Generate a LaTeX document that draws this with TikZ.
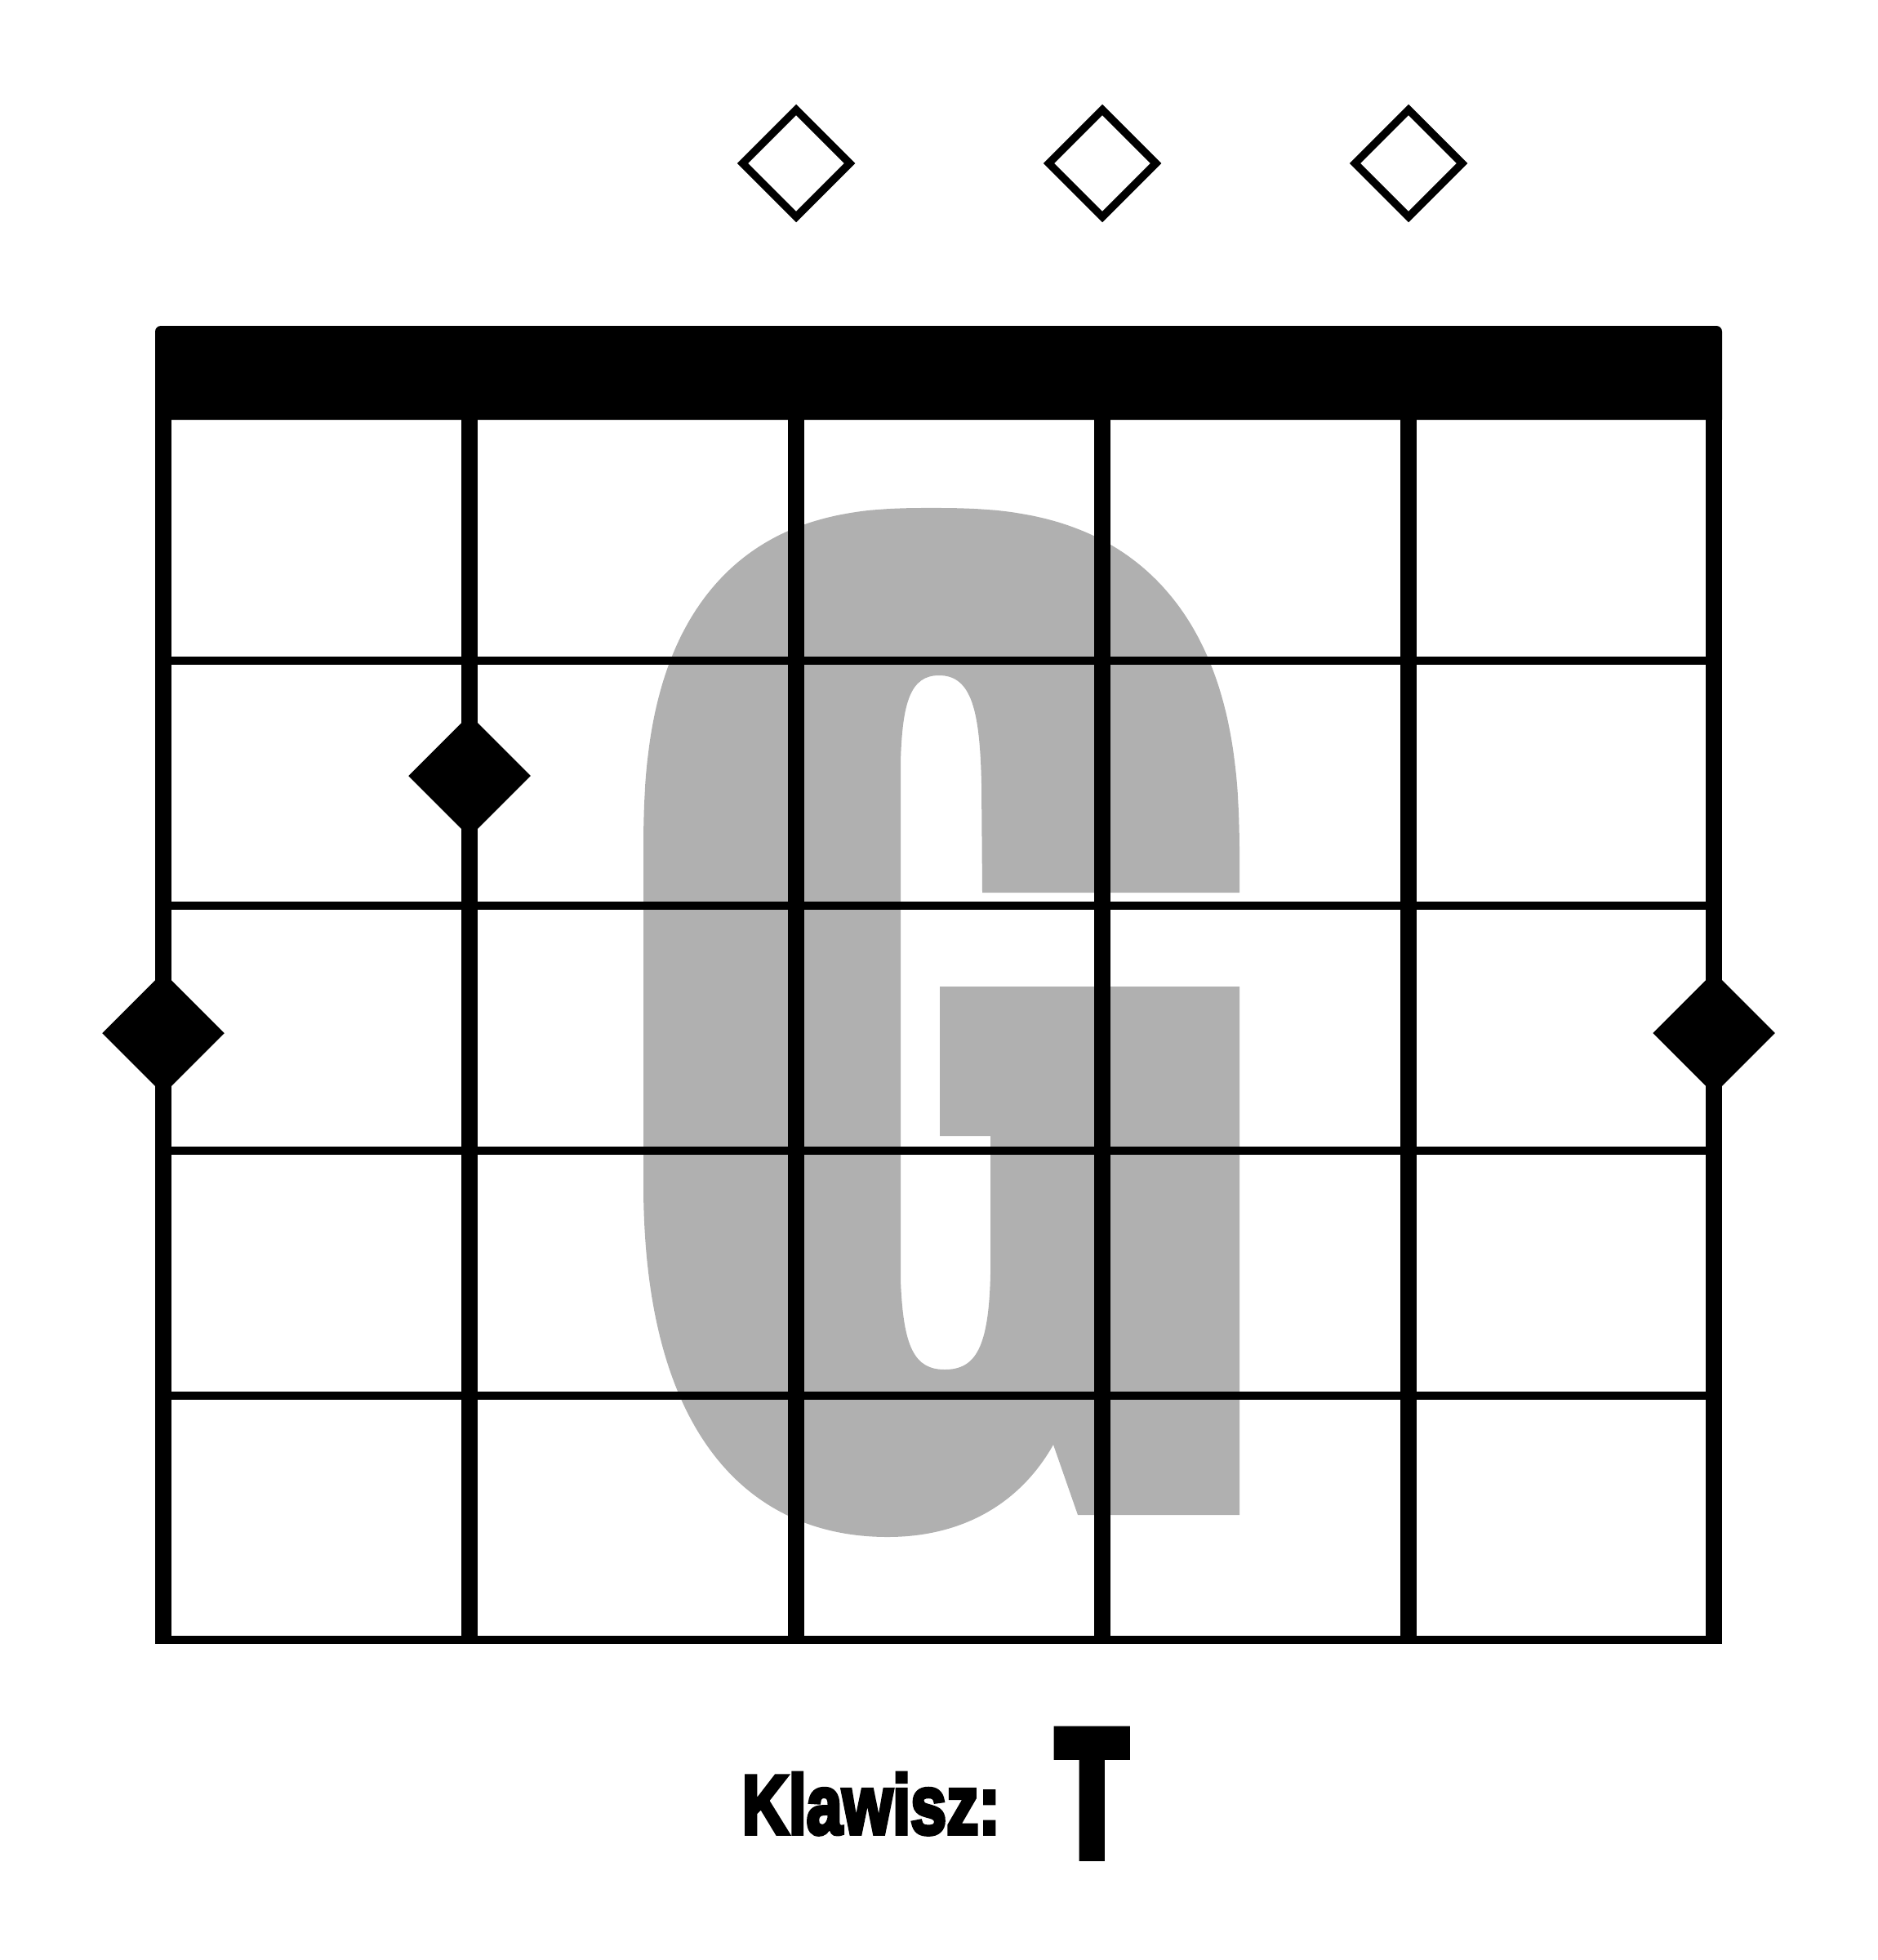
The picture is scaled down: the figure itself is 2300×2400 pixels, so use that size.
\documentclass[tikz,border=0pt]{standalone}
\usepackage{graphicx}
\usepackage{fontspec}
\usetikzlibrary{shapes.geometric}
\newfontfamily\impactfont[UprightFont={* Bold},FakeBold=5]{Liberation Sans}
\newfontfamily\impactT[UprightFont={* Bold},FakeBold=8]{Liberation Sans}
\definecolor{ggray}{RGB}{176,176,176}
\begin{document}
\begin{tikzpicture}[x=0.01cm,y=-0.01cm,
  opendia/.style={diamond, aspect=1, draw=black, line width=0.094cm, fill=white, minimum width=1.35cm, minimum height=1.35cm, inner sep=0pt},
  filldia/.style={diamond, aspect=1, fill=black, minimum width=1.5cm, minimum height=1.5cm, inner sep=0pt},
  fretline/.style={line width=0.10cm},
  stringline/.style={line width=0.20cm},
  textlabel/.style={anchor=south west, inner sep=0pt}]
\useasboundingbox (0,0) rectangle (2300,2400);
% big grey chord letter
\fill[ggray] (788,1450) -- (788,1100)
 -- plot[domain=0.3:89.7, samples=90, smooth] ({1140-352*pow(cos(\x),0.77)}, {1050-428*pow(sin(\x),0.77)})
 -- plot[domain=89.7:0.3, samples=90, smooth] ({1140+378*pow(cos(\x),0.77)}, {1060-438*pow(sin(\x),0.77)})
 -- (1518,1093) -- (1203,1093) -- (1202,960)
 .. controls (1200,870) and (1190,827) .. (1150,827)
 .. controls (1115,827) and (1105,860) .. (1103,933)
 -- (1103,1567)
 .. controls (1106,1650) and (1120,1677) .. (1157,1677)
 .. controls (1195,1677) and (1211,1650) .. (1213,1560)
 -- (1213,1391) -- (1151,1391) -- (1151,1208) -- (1518,1208) -- (1518,1855)
 -- (1320,1855) -- (1290,1769)
 .. controls (1250,1840) and (1180,1882) .. (1087,1882)
 .. controls (920,1882) and (788,1760) .. (788,1450) -- cycle;
% frets
\foreach \y in {809,1109,1409,1709} \draw[fretline] (200,\y) -- (2099,\y);
\draw[fretline] (190,2008) -- (2109,2008);
% strings
\foreach \x in {200,575,975,1350,1725,2099} \draw[stringline] (\x,514) -- (\x,2013);
% nut
\fill (190,514) [rounded corners=0.07cm] -- (190,399) -- (2109,399) [sharp corners] -- (2109,514) -- cycle;
% open strings
\node[opendia] (o1) at (975,200) {};
\node[opendia] (o2) at (1350,200) {};
\node[opendia] (o3) at (1725,200) {};
% fingers
\node[filldia] (f1) at (575,950) {};
\node[filldia] (f2) at (200,1265) {};
\node[filldia] (f3) at (2099,1265) {};
% key label
\node[textlabel] (klawisz) at (908,2247) {\resizebox{3.16cm}{0.74cm}{\impactfont Klawisz:}};
\node[textlabel] (key) at (1294,2271) {\resizebox{0.85cm}{1.48cm}{\impactT T}};
\end{tikzpicture}
\end{document}
